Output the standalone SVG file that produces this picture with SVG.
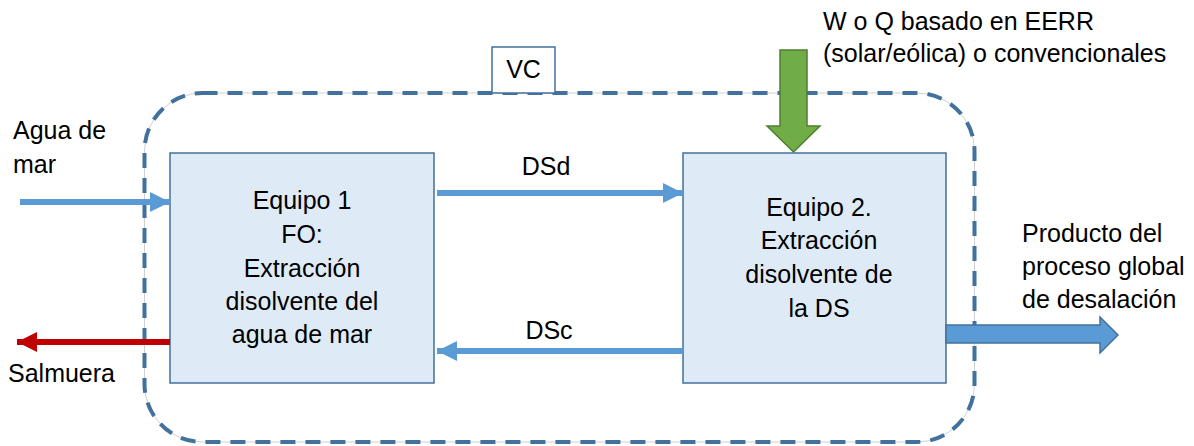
<svg xmlns="http://www.w3.org/2000/svg" width="1194" height="446" viewBox="0 0 1194 446">
<defs>
<style>
text{font-family:"Liberation Sans",Arial,sans-serif;font-size:25px;fill:#000}
.c{text-anchor:middle}
.box{fill:#DEEAF6;stroke:#41719C;stroke-width:1.5}
.flow{stroke:#5B9BD5;stroke-width:6;fill:none}
</style>
<marker id="ab" viewBox="0 0 20 20" refX="20" refY="10" markerWidth="20" markerHeight="20" markerUnits="userSpaceOnUse" orient="auto">
<path d="M0,0 L20,10 L0,20 Z" fill="#5B9BD5"/>
</marker>
<marker id="ar" viewBox="0 0 20 20" refX="20" refY="10" markerWidth="20" markerHeight="20" markerUnits="userSpaceOnUse" orient="auto">
<path d="M0,0 L20,10 L0,20 Z" fill="#C00000"/>
</marker>
</defs>
<rect width="1194" height="446" fill="#fff"/>

<g id="vc-boundary">
<rect x="144.5" y="93" width="830" height="349" rx="58" ry="58" fill="none" stroke="#D0D0D0" stroke-width="1"/>
<rect x="144.5" y="93" width="830" height="349" rx="58" ry="58" fill="none" stroke="#41719C" stroke-width="4" stroke-dasharray="15 10"/>
</g>

<g id="vc-label">
<rect x="492" y="47" width="63" height="46" fill="#fff" stroke="#41719C" stroke-width="1.5"/>
<text class="c" x="523.5" y="78">VC</text>
</g>

<g id="equipo1">
<rect class="box" x="170" y="153" width="264" height="230"/>
<text class="c" x="302" y="209">Equipo 1</text>
<text class="c" x="302" y="243">FO:</text>
<text class="c" x="302" y="277">Extracción</text>
<text class="c" x="302" y="310">disolvente del</text>
<text class="c" x="302" y="343">agua de mar</text>
</g>

<g id="equipo2">
<rect class="box" x="683" y="153" width="263" height="230"/>
<text class="c" x="819" y="216">Equipo 2.</text>
<text class="c" x="819" y="249">Extracción</text>
<text class="c" x="819" y="283">disolvente de</text>
<text class="c" x="819" y="317">la DS</text>
</g>

<g id="connectors">
<line class="flow" x1="20" y1="202" x2="170" y2="202" marker-end="url(#ab)"/>
<line x1="170" y1="342" x2="17" y2="342" stroke="#C00000" stroke-width="6" marker-end="url(#ar)"/>
<line class="flow" x1="437" y1="193" x2="683" y2="193" marker-end="url(#ab)"/>
<line class="flow" x1="683" y1="351" x2="437" y2="351" marker-end="url(#ab)"/>
<path d="M780,50 L807,50 L807,126 L820,126 L793.5,152 L767,126 L780,126 Z" fill="#70AD47" stroke="#507E32" stroke-width="1.5"/>
<path d="M946,325 L1100,325 L1100,317 L1118,335 L1100,353 L1100,343 L946,343 Z" fill="#5B9BD5" stroke="#41719C" stroke-width="1.5"/>
</g>

<g id="labels">
<text x="13" y="139">Agua de</text>
<text x="13" y="173">mar</text>
<text x="8" y="382">Salmuera</text>
<text class="c" x="546" y="175">DSd</text>
<text class="c" x="549" y="339">DSc</text>
<text x="823" y="30">W o Q basado en EERR</text>
<text x="823" y="62">(solar/eólica) o convencionales</text>
<text x="1022" y="242">Producto del</text>
<text x="1022" y="275">proceso global</text>
<text x="1022" y="308">de desalación</text>
</g>
</svg>
